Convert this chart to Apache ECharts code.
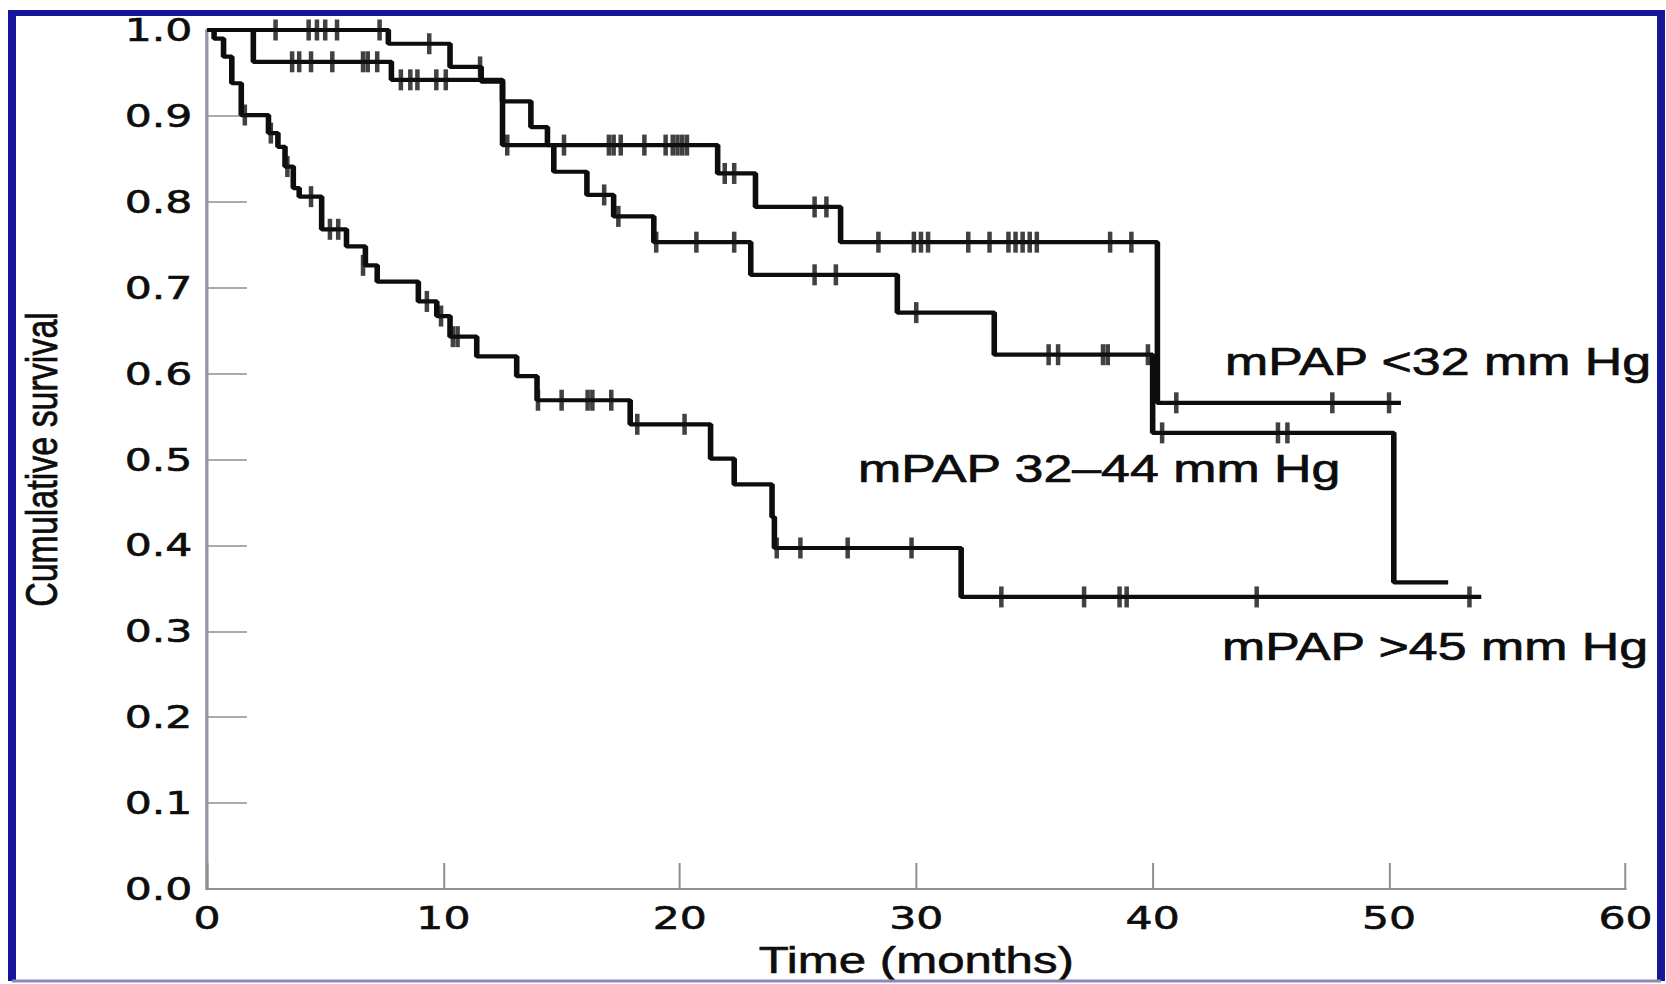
<!DOCTYPE html>
<html>
<head>
<meta charset="utf-8">
<title>Cumulative survival by mPAP</title>
<script src="https://cdn.jsdelivr.net/npm/echarts@6/dist/echarts.min.js"></script>
<style>
  html, body { margin: 0; padding: 0; background: #fff; }
  #wrap { width: 1666px; height: 984px; overflow: hidden; position: relative; }
  /* the scanned figure is stretched sideways, so the chart is drawn narrow and widened */
  #chart { height: 984px; transform-origin: 0 0; }
</style>
</head>
<body>
<div id="wrap"><div id="chart"></div></div>
<script>
  var groupNames = ['mPAP <32 mm Hg', 'mPAP 32\u201344 mm Hg', 'mPAP >45 mm Hg'];
  var xTicks = [0, 10, 20, 30, 40, 50, 60];

  // mPAP <32
  var lowTime = [0, 7.67, 10.28, 11.6, 12.5, 13.7, 14.4, 21.6, 23.2, 26.8, 40.2, 50.5];
  var lowSurv = [1, 0.984, 0.957, 0.94, 0.917, 0.887, 0.866, 0.833, 0.794, 0.753, 0.566, 0.566];
  var lowCensorTime = [2.9, 4.3, 4.65, 5.0, 5.5, 7.3, 9.4, 11.55, 15.1, 17.0, 17.2, 17.5, 18.5, 19.4, 19.7, 19.9, 20.1, 20.3,
    21.9, 22.3, 25.7, 26.2, 28.4, 29.9, 30.2, 30.5, 32.2, 33.1, 33.9, 34.2, 34.5, 34.8, 35.1, 38.2, 39.1, 41.0, 47.6, 50.0];
  var lowCensorSurv = [1, 1, 1, 1, 1, 1, 0.984, 0.957, 0.866, 0.866, 0.866, 0.866, 0.866, 0.866, 0.866, 0.866, 0.866, 0.866,
    0.833, 0.833, 0.794, 0.794, 0.753, 0.753, 0.753, 0.753, 0.753, 0.753, 0.753, 0.753, 0.753, 0.753, 0.753, 0.753, 0.753, 0.566, 0.566, 0.566];

  // mPAP 32-44
  var midTime = [0, 1.96, 7.8, 12.5, 14.67, 16.07, 17.2, 18.9, 23.0, 29.2, 33.3, 40.0, 50.2, 52.5];
  var midSurv = [1, 0.963, 0.942, 0.866, 0.835, 0.808, 0.783, 0.753, 0.715, 0.671, 0.622, 0.531, 0.357, 0.357];
  var midCensorTime = [3.6, 3.9, 4.4, 5.3, 6.6, 6.8, 7.2, 8.2, 8.6, 8.9, 9.7, 10.1, 12.7, 16.8, 17.4, 19.0, 20.7, 22.3,
    25.7, 26.6, 30.0, 35.6, 36.0, 37.9, 38.1, 39.8, 40.4, 45.3, 45.7];
  var midCensorSurv = [0.963, 0.963, 0.963, 0.963, 0.963, 0.963, 0.963, 0.942, 0.942, 0.942, 0.942, 0.942, 0.866, 0.808, 0.783, 0.753, 0.753, 0.753,
    0.715, 0.715, 0.671, 0.622, 0.622, 0.622, 0.622, 0.622, 0.531, 0.531, 0.531];

  // mPAP >45
  var highTime = [0, 0.3, 0.7, 1.05, 1.45, 2.6, 3.0, 3.3, 3.65, 3.9, 4.85, 5.9, 6.7, 7.2, 8.94, 9.72, 10.28, 11.41,
    13.1, 13.96, 17.9, 21.3, 22.3, 23.9, 24.0, 31.9, 53.9];
  var highSurv = [1, 0.99, 0.969, 0.938, 0.901, 0.88, 0.864, 0.841, 0.816, 0.806, 0.768, 0.748, 0.726, 0.707, 0.684, 0.667, 0.643, 0.62,
    0.597, 0.569, 0.541, 0.501, 0.471, 0.433, 0.397, 0.34, 0.34];
  var highCensorTime = [1.6, 2.7, 3.4, 4.4, 5.2, 5.55, 6.6, 9.3, 9.9, 10.4, 10.6, 14.0, 15.0, 16.1, 16.3, 17.1, 18.2, 20.2,
    24.1, 25.1, 27.1, 29.8, 33.6, 37.1, 38.6, 38.9, 44.4, 53.4];
  var highCensorSurv = [0.901, 0.88, 0.841, 0.806, 0.768, 0.768, 0.726, 0.684, 0.667, 0.643, 0.643, 0.569, 0.569, 0.569, 0.569, 0.569, 0.541, 0.541,
    0.397, 0.397, 0.397, 0.397, 0.34, 0.34, 0.34, 0.34, 0.34, 0.34];

  var S = 1.33;           // sideways stretch of the original figure
  var W = 1666 / S;
  var box = document.getElementById('chart');
  box.style.width = W + 'px';
  box.style.transform = 'scaleX(' + S + ')';

  function pairs (xs, ys) {
    var out = [];
    for (var i = 0; i < xs.length; i++) {
      out.push([xs[i], ys[i]]);
    }
    return out;
  }

  function stepSeries (name, xs, ys) {
    return {
      name: name,
      type: 'line',
      step: 'end',
      data: pairs(xs, ys),
      showSymbol: false,
      silent: true,
      lineStyle: { color: '#0d0d0d', width: 4.2 },
      z: 3
    };
  }

  function censorSeries (name, xs, ys) {
    return {
      name: name,
      type: 'scatter',
      data: pairs(xs, ys),
      symbol: 'rect',
      symbolSize: [3.4, 21],
      silent: true,
      itemStyle: { color: '#111' },
      z: 4
    };
  }

  var textFont = '"Liberation Sans", Arial, sans-serif';
  var numFont = '"DejaVu Sans", sans-serif';

  function label (text, x, y) {
    return {
      type: 'text', x: x / S, y: y, z: 10,
      style: {
        text: text, font: '39px ' + textFont, fill: '#0d0d0d',
        stroke: '#0d0d0d', lineWidth: 0.7,
        textVerticalAlign: 'middle', verticalAlign: 'middle'
      }
    };
  }

  var myChart = echarts.init(box, null, { renderer: 'svg' });
  myChart.setOption({
    animation: false,
    backgroundColor: '#fff',
    grid: {
      left: 207 / S,
      right: 41 / S,
      top: 30,
      bottom: 95,
      containLabel: false,
      outerBoundsMode: 'none'
    },
    xAxis: {
      type: 'value',
      min: 0,
      max: 60,
      interval: 10,
      name: 'Time (months)',
      nameLocation: 'middle',
      nameGap: 53,
      nameTextStyle: { fontFamily: textFont, fontSize: 37, color: '#0d0d0d', textBorderColor: '#0d0d0d', textBorderWidth: 0.6 },
      axisLine: { show: true, onZero: false, lineStyle: { color: '#8e8e96', width: 2 } },
      axisTick: { show: true, inside: true, length: 26, lineStyle: { color: '#8e8e8e', width: 1.5 } },
      axisLabel: {
        fontFamily: numFont,
        fontSize: 32,
        color: '#0d0d0d',
        textBorderColor: '#0d0d0d',
        textBorderWidth: 0.6,
        margin: 13,
        showMinLabel: true,
        showMaxLabel: true,
        formatter: function (v) { return xTicks.indexOf(v) >= 0 ? String(v) : ''; }
      },
      splitLine: { show: false }
    },
    yAxis: {
      type: 'value',
      min: 0,
      max: 1,
      interval: 0.1,
      name: 'Cumulative survival',
      nameLocation: 'middle',
      nameRotate: 90,
      nameGap: 108,
      nameTextStyle: { fontFamily: textFont, fontSize: 34, color: '#0d0d0d', textBorderColor: '#0d0d0d', textBorderWidth: 0.6 },
      axisLine: { show: true, onZero: false, lineStyle: { color: '#9696a4', width: 2.5 } },
      axisTick: { show: true, inside: true, length: 30, lineStyle: { color: '#8e8e8e', width: 1.5 } },
      axisLabel: {
        fontFamily: numFont,
        fontSize: 32,
        color: '#0d0d0d',
        textBorderColor: '#0d0d0d',
        textBorderWidth: 0.6,
        margin: 11,
        showMinLabel: true,
        showMaxLabel: true,
        formatter: function (v) { return v.toFixed(1); }
      },
      splitLine: { show: false }
    },
    graphic: [
      label(groupNames[0], 1225, 361),
      label(groupNames[1], 858, 468),
      label(groupNames[2], 1222, 646),
      {
        type: 'polyline', z: 20, silent: true,
        shape: { points: [[12 / S, 981], [12 / S, 13], [1661 / S, 13], [1661 / S, 981]] },
        style: { stroke: '#16169a', lineWidth: 6, fill: null }
      },
      {
        type: 'line', z: 20, silent: true,
        shape: { x1: 12 / S, y1: 981, x2: 1661 / S, y2: 981 },
        style: { stroke: '#8a8ab2', lineWidth: 3 }
      }
    ],
    series: [
      stepSeries(groupNames[0], lowTime, lowSurv),
      stepSeries(groupNames[1], midTime, midSurv),
      stepSeries(groupNames[2], highTime, highSurv),
      censorSeries(groupNames[0] + ' censored', lowCensorTime, lowCensorSurv),
      censorSeries(groupNames[1] + ' censored', midCensorTime, midCensorSurv),
      censorSeries(groupNames[2] + ' censored', highCensorTime, highCensorSurv)
    ]
  });
</script>
</body>
</html>
